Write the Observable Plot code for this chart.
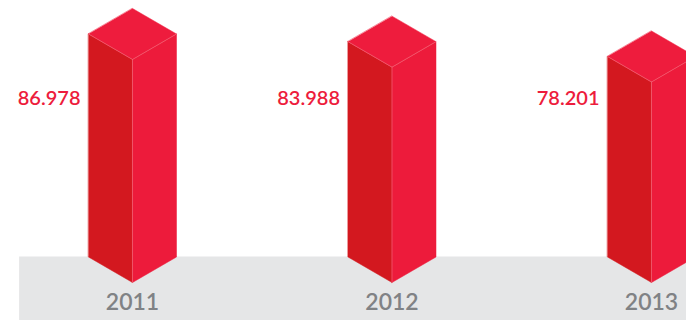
<!DOCTYPE html>
<html><head><meta charset="utf-8">
<script src="https://cdn.jsdelivr.net/npm/d3@7"></script>
<script src="https://cdn.jsdelivr.net/npm/@observablehq/plot@0.6"></script>
<style>body{margin:0;background:#fff;overflow:hidden}#chart svg{display:block}</style>
</head><body><div id="chart"></div>
<script>
const years = ["2011", "2012", "2013"];
const values = [86.978, 83.988, 78.201];
const valueLabels = ["86.978", "83.988", "78.201"];

// isometric geometry (in scale units)
const W = 0.1696;   // half width of the prism along x
const D = 9.95;     // depth rise of the prism along y
const bandLeft = -0.435;

const bars = years.map((year, i) => ({i, year, v: values[i], label: valueLabels[i]}));

function faces(fn) {
  const out = [];
  bars.forEach(b => fn(b).forEach(([x, y]) => out.push({id: b.year, x, y})));
  return out;
}
const leftFaces = faces(({i, v}) => [[i - W, D], [i, 0], [i, v], [i - W, v + D]]);
const rightFaces = faces(({i, v}) => [[i, 0], [i + W, D], [i + W, v + D], [i, v]]);
const topFaces = faces(({i, v}) => [[i - W, v + D], [i, v], [i + W, v + D], [i, v + 2 * D]]);
const topEdges = faces(({i, v}) => [[i - W, v + D], [i, v], [i + W, v + D]]);
const frontEdges = faces(({i, v}) => [[i, v], [i, 0]]);

const band = [{x1: bandLeft, x2: 3, y1: D, y2: -30}];

const chart = Plot.plot({
  width: 686,
  height: 320,
  margin: 0,
  style: {background: "#ffffff"},
  x: {type: "linear", domain: [0, 2], range: [132, 651], axis: null},
  y: {type: "linear", domain: [0, 100], range: [282, 25.6], axis: null},
  marks: [
    Plot.rect(band, {x1: "x1", x2: "x2", y1: "y1", y2: "y2", fill: "#e5e6e7"}),
    Plot.line(leftFaces, {x: "x", y: "y", z: "id", curve: "linear-closed", fill: "#d3181f", stroke: "#d3181f", strokeWidth: 0.5}),
    Plot.line(rightFaces, {x: "x", y: "y", z: "id", curve: "linear-closed", fill: "#ed1b3b", stroke: "#ed1b3b", strokeWidth: 0.5}),
    Plot.line(topFaces, {x: "x", y: "y", z: "id", curve: "linear-closed", fill: "#ee1c3d", stroke: "#ee1c3d", strokeWidth: 0.5}),
    Plot.line(topEdges, {x: "x", y: "y", z: "id", stroke: "#f4707f", strokeWidth: 0.6}),
    Plot.line(frontEdges, {x: "x", y: "y", z: "id", stroke: "#f4707f", strokeWidth: 0.6}),
    Plot.text(bars, {x: "i", frameAnchor: "top", dy: 90, dx: -52, text: "label", textAnchor: "end",
      fill: "#ed1c3c", fontSize: 20, fontFamily: "Lato", fontWeight: 600}),
    Plot.text(bars, {x: "i", y: 0, dy: 20, text: "year", fill: "#808285",
      fontSize: 23, fontFamily: "Lato", fontWeight: 600})
  ]
});
document.getElementById("chart").append(chart);
</script>
</body></html>
